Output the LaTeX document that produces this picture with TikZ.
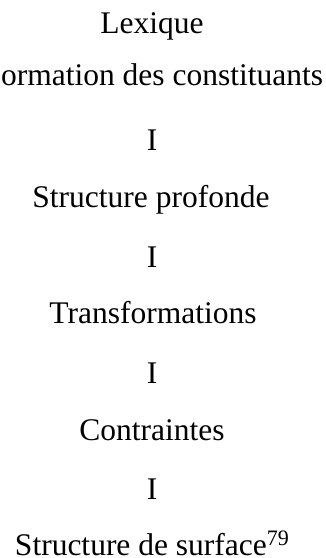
\documentclass[tikz,border=0pt]{standalone}
\usepackage{fontspec}
\setmainfont{Liberation Serif}
\begin{document}
\begin{tikzpicture}[x=1pt,y=-1pt,
  lbl/.style={inner sep=0pt, outer sep=0pt, anchor=base, font=\fontsize{31.5}{36}\selectfont}]
\useasboundingbox (0,0) rectangle (325,558);
\node[lbl] (lex) at (152,33) {Lexique};
\node[lbl, anchor=base east] (form) at (323,85) {Formation des constituants};
\node[lbl] (i1) at (152,150) {I};
\node[lbl] (sp) at (151,207) {Structure profonde};
\node[lbl] (i2) at (152,267) {I};
\node[lbl] (tr) at (153,323) {Transformations};
\node[lbl] (i3) at (152,383) {I};
\node[lbl] (co) at (152,440) {Contraintes};
\node[lbl] (i4) at (152,499) {I};
\node[lbl, anchor=base west] (ss) at (15,555) {Structure de surface\textsuperscript{79}};
\end{tikzpicture}
\end{document}
